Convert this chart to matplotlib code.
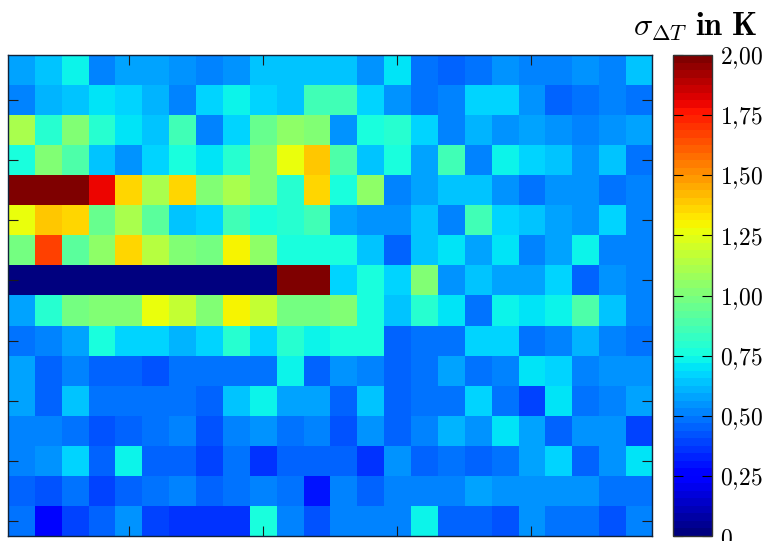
import numpy as np
import matplotlib
matplotlib.use("Agg")
import matplotlib.pyplot as plt

plt.rcParams["mathtext.fontset"] = "cm"
plt.rcParams["font.family"] = ["DejaVu Serif"]

# sigma_dT in K, 16 rows (top to bottom) x 24 columns (left to right)
row_01 = [0.57, 0.64, 0.72, 0.53, 0.58, 0.58, 0.56, 0.53, 0.56, 0.64, 0.64, 0.64,
          0.65, 0.54, 0.70, 0.48, 0.44, 0.48, 0.56, 0.52, 0.50, 0.56, 0.52, 0.65]
row_02 = [0.52, 0.61, 0.64, 0.69, 0.66, 0.61, 0.50, 0.66, 0.72, 0.68, 0.65, 0.85,
          0.85, 0.68, 0.54, 0.48, 0.53, 0.66, 0.66, 0.54, 0.44, 0.47, 0.52, 0.47]
row_03 = [1.10, 0.81, 1.00, 0.81, 0.70, 0.64, 0.85, 0.52, 0.68, 0.94, 1.06, 1.03,
          0.54, 0.75, 0.81, 0.66, 0.52, 0.61, 0.55, 0.58, 0.56, 0.50, 0.55, 0.59]
row_04 = [0.76, 1.00, 0.88, 0.64, 0.56, 0.68, 0.75, 0.69, 0.81, 1.03, 1.25, 1.40,
          0.88, 0.64, 0.76, 0.59, 0.86, 0.50, 0.72, 0.68, 0.64, 0.56, 0.63, 0.48]
row_05 = [2.00, 2.00, 2.00, 1.80, 1.35, 1.10, 1.37, 1.03, 1.10, 1.00, 0.81, 1.35,
          0.76, 1.06, 0.53, 0.58, 0.63, 0.63, 0.54, 0.48, 0.54, 0.56, 0.48, 0.52]
row_06 = [1.25, 1.40, 1.35, 0.94, 1.10, 0.91, 0.65, 0.68, 0.85, 0.76, 0.81, 0.85,
          0.58, 0.55, 0.56, 0.65, 0.50, 0.86, 0.67, 0.63, 0.58, 0.56, 0.66, 0.52]
row_07 = [0.97, 1.66, 0.91, 1.06, 1.35, 1.13, 1.03, 0.97, 1.31, 1.06, 0.76, 0.76,
          0.76, 0.63, 0.45, 0.63, 0.70, 0.58, 0.70, 0.52, 0.58, 0.72, 0.52, 0.52]
row_08 = [0.00, 0.00, 0.00, 0.00, 0.00, 0.00, 0.00, 0.00, 0.00, 0.00, 2.00, 2.00,
          0.66, 0.78, 0.66, 1.03, 0.56, 0.63, 0.59, 0.59, 0.67, 0.44, 0.56, 0.50]
row_09 = [0.58, 0.81, 0.97, 1.00, 1.00, 1.25, 1.16, 1.00, 1.29, 1.16, 0.97, 0.97,
          1.03, 0.76, 0.64, 0.81, 0.69, 0.48, 0.72, 0.70, 0.73, 0.88, 0.63, 0.50]
row_10 = [0.47, 0.52, 0.58, 0.75, 0.67, 0.67, 0.60, 0.66, 0.81, 0.66, 0.81, 0.72,
          0.76, 0.76, 0.45, 0.48, 0.48, 0.67, 0.67, 0.48, 0.53, 0.61, 0.52, 0.47]
row_11 = [0.58, 0.44, 0.50, 0.45, 0.45, 0.42, 0.48, 0.48, 0.48, 0.48, 0.72, 0.45,
          0.55, 0.50, 0.45, 0.48, 0.58, 0.48, 0.52, 0.70, 0.67, 0.52, 0.55, 0.55]
row_12 = [0.58, 0.45, 0.64, 0.48, 0.48, 0.47, 0.48, 0.44, 0.63, 0.72, 0.59, 0.59,
          0.45, 0.63, 0.45, 0.48, 0.48, 0.67, 0.48, 0.39, 0.70, 0.48, 0.52, 0.58]
row_13 = [0.50, 0.50, 0.47, 0.42, 0.44, 0.47, 0.52, 0.42, 0.52, 0.55, 0.47, 0.50,
          0.41, 0.54, 0.45, 0.52, 0.61, 0.54, 0.69, 0.58, 0.45, 0.56, 0.56, 0.39]
row_14 = [0.50, 0.56, 0.67, 0.45, 0.72, 0.45, 0.45, 0.39, 0.48, 0.37, 0.45, 0.45,
          0.45, 0.37, 0.55, 0.45, 0.48, 0.45, 0.48, 0.58, 0.67, 0.45, 0.56, 0.70]
row_15 = [0.44, 0.41, 0.47, 0.39, 0.45, 0.48, 0.50, 0.45, 0.47, 0.53, 0.47, 0.31,
          0.53, 0.45, 0.50, 0.50, 0.52, 0.58, 0.54, 0.56, 0.56, 0.54, 0.47, 0.47]
row_16 = [0.48, 0.28, 0.39, 0.45, 0.55, 0.39, 0.37, 0.37, 0.37, 0.75, 0.53, 0.41,
          0.50, 0.50, 0.50, 0.74, 0.44, 0.44, 0.41, 0.56, 0.47, 0.47, 0.41, 0.50]

x_ticks = [5, 10, 15, 20]
y_ticks = [2, 4, 6, 8, 10, 12, 14, 16]
cbar_ticks = [0, 0.25, 0.5, 0.75, 1.0, 1.25, 1.5, 1.75, 2.0]
cbar_labels = ["0", "0,25", "0,50", "0,75", "1,00", "1,25", "1,50", "1,75", "2,00"]

grid = np.array([row_01, row_02, row_03, row_04, row_05, row_06, row_07, row_08,
                 row_09, row_10, row_11, row_12, row_13, row_14, row_15, row_16])
n_rows, n_cols = grid.shape

W, H = 767, 541
fig = plt.figure(figsize=(W / 100, H / 100), dpi=100)
ax = fig.add_axes([8 / W, 5 / H, 644.3 / W, 481 / H])
cax = fig.add_axes([673 / W, 5 / H, 39 / W, 481 / H])

cmap = plt.get_cmap("jet", 64)
im = ax.imshow(grid, cmap=cmap, vmin=0, vmax=2, aspect="auto", interpolation="nearest",
               extent=[0.5, n_cols + 0.5, n_rows + 0.5, 0.5])

ax.set_xticks(x_ticks)
ax.set_yticks(y_ticks)
ax.set_xticklabels([])
ax.set_yticklabels([])
ax.tick_params(direction="in", length=7, width=0.8, top=True, right=True,
               bottom=True, left=True, color="#1a1a1a")
for sp in ax.spines.values():
    sp.set_linewidth(1.0)
    sp.set_color("#10223a")

cb = fig.colorbar(im, cax=cax, ticks=cbar_ticks)
cb.set_ticklabels([f"${t}$".replace(",", "{,}") for t in cbar_labels])
cax.tick_params(direction="in", length=7, width=0.8, left=True, right=True,
                labelsize=17, pad=6)
cb.outline.set_linewidth(1.0)
cb.outline.set_edgecolor("#333333")

fig.text(757 / W, 1 - 36 / H, r"$\sigma_{\Delta T}$ $\mathbf{in\ K}$",
         ha="right", va="baseline", fontsize=23)

fig.savefig("out.png", dpi=100)
